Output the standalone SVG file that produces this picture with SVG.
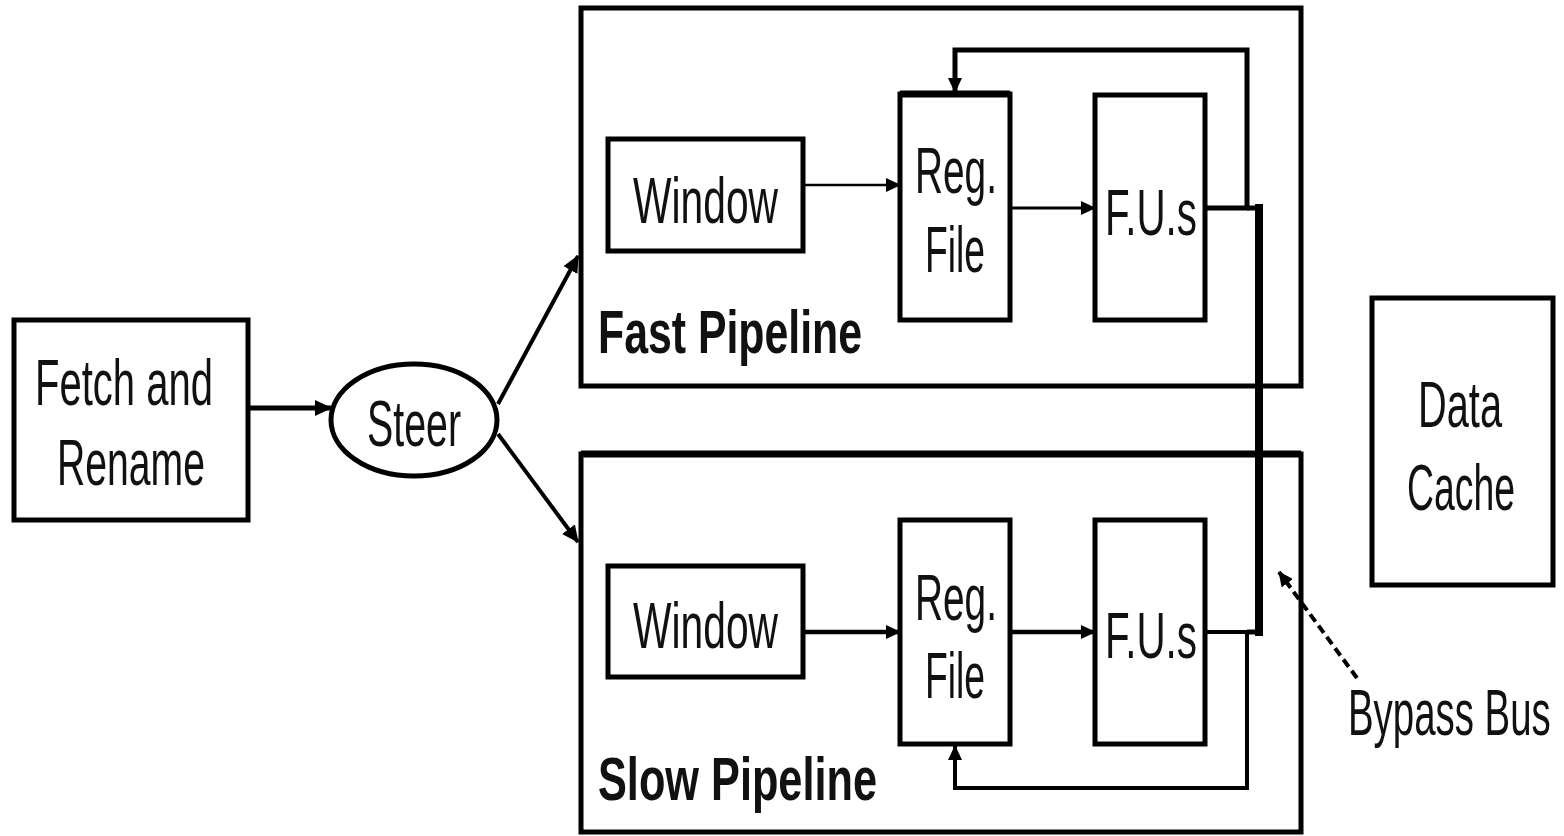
<svg xmlns="http://www.w3.org/2000/svg" width="1564" height="836" viewBox="0 0 1564 836">
<defs>
<style>
.box{fill:none;stroke:#000;stroke-width:5}
.lbl{font-family:"Liberation Sans",Arial,sans-serif;font-size:64px;fill:#111;text-anchor:start}
.bold{font-family:"Liberation Sans",Arial,sans-serif;font-size:62px;font-weight:bold;fill:#111}
.ln{fill:none;stroke:#000;stroke-linejoin:miter}
</style>
<marker id="ah" markerUnits="userSpaceOnUse" markerWidth="18" markerHeight="16" refX="16" refY="8" orient="auto">
<path d="M0,0 L17,8 L0,16 z" fill="#000"/>
</marker>
<marker id="ahs" markerUnits="userSpaceOnUse" markerWidth="16" markerHeight="14" refX="14" refY="7" orient="auto">
<path d="M0,0 L15,7 L0,14 z" fill="#000"/>
</marker>
</defs>
<rect width="1564" height="836" fill="#fff"/>

<g id="fast-pipeline">
<rect class="box" x="581" y="8" width="720" height="378"/>
<text class="bold" x="598" y="353" textLength="264" lengthAdjust="spacingAndGlyphs">Fast Pipeline</text>
</g>
<g id="slow-pipeline">
<rect class="box" x="581" y="454" width="720" height="378"/>
<line x1="581" y1="454" x2="1301" y2="454" stroke="#000" stroke-width="7"/>
<text class="bold" x="598" y="800" textLength="279" lengthAdjust="spacingAndGlyphs">Slow Pipeline</text>
</g>

<g id="fetch">
<rect class="box" x="14" y="320" width="234" height="200"/>
<text class="lbl" x="35" y="405" textLength="178" lengthAdjust="spacingAndGlyphs">Fetch and</text>
<text class="lbl" x="57" y="485" textLength="148" lengthAdjust="spacingAndGlyphs">Rename</text>
</g>
<g id="steer">
<ellipse cx="414" cy="420" rx="83" ry="56" fill="none" stroke="#000" stroke-width="5"/>
<text class="lbl" x="367" y="446" textLength="94" lengthAdjust="spacingAndGlyphs">Steer</text>
</g>

<g id="fast-window">
<rect class="box" x="608" y="139" width="195" height="112"/>
<text class="lbl" x="633" y="223" textLength="145" lengthAdjust="spacingAndGlyphs">Window</text>
</g>
<g id="fast-regfile">
<rect class="box" x="900" y="94" width="110" height="226"/>
<line x1="900" y1="94" x2="1010" y2="94" stroke="#000" stroke-width="7"/>
<text class="lbl" x="915" y="193" textLength="82" lengthAdjust="spacingAndGlyphs">Reg.</text>
<text class="lbl" x="925" y="272" textLength="60" lengthAdjust="spacingAndGlyphs">File</text>
</g>
<g id="fast-fus">
<rect class="box" x="1095" y="95" width="110" height="225"/>
<text class="lbl" x="1105" y="235" textLength="92" lengthAdjust="spacingAndGlyphs">F.U.s</text>
</g>

<g id="slow-window">
<rect class="box" x="608" y="566" width="195" height="111"/>
<text class="lbl" x="633" y="648" textLength="145" lengthAdjust="spacingAndGlyphs">Window</text>
</g>
<g id="slow-regfile">
<rect class="box" x="900" y="520" width="110" height="224"/>
<text class="lbl" x="915" y="620" textLength="82" lengthAdjust="spacingAndGlyphs">Reg.</text>
<text class="lbl" x="925" y="698" textLength="60" lengthAdjust="spacingAndGlyphs">File</text>
</g>
<g id="slow-fus">
<rect class="box" x="1095" y="520" width="110" height="224"/>
<text class="lbl" x="1105" y="658" textLength="92" lengthAdjust="spacingAndGlyphs">F.U.s</text>
</g>

<g id="data-cache">
<rect class="box" x="1372" y="298" width="181" height="287"/>
<text class="lbl" x="1418" y="427" textLength="84" lengthAdjust="spacingAndGlyphs">Data</text>
<text class="lbl" transform="translate(1407,510) scale(0.6,1)" x="0" y="0" textLength="180" lengthAdjust="spacingAndGlyphs">Cache</text>
</g>

<g id="bypass-label">
<text class="lbl" transform="translate(1348,735) scale(0.6,1)" x="0" y="0" textLength="338" lengthAdjust="spacingAndGlyphs">Bypass Bus</text>
</g>

<g id="connectors">
<line class="ln" x1="248" y1="408" x2="331" y2="408" stroke-width="5" marker-end="url(#ah)"/>
<line class="ln" x1="498" y1="404" x2="578" y2="256" stroke-width="4" marker-end="url(#ah)"/>
<line class="ln" x1="498" y1="434" x2="578" y2="542" stroke-width="4" marker-end="url(#ah)"/>

<line class="ln" x1="803" y1="185" x2="900" y2="185" stroke-width="2.5" marker-end="url(#ahs)"/>
<line class="ln" x1="1010" y1="208" x2="1095" y2="208" stroke-width="3" marker-end="url(#ahs)"/>
<polyline class="ln" points="1205,208 1247,208 1247,50 955,50 955,92" stroke-width="5" marker-end="url(#ahs)"/>

<line class="ln" x1="803" y1="632" x2="900" y2="632" stroke-width="4.5" marker-end="url(#ahs)"/>
<line class="ln" x1="1010" y1="632" x2="1095" y2="632" stroke-width="4.5" marker-end="url(#ahs)"/>
<polyline class="ln" points="1205,632 1247,632 1247,788 955,788 955,746" stroke-width="4" marker-end="url(#ahs)"/>

<line class="ln" x1="1247" y1="632" x2="1262" y2="632" stroke-width="5"/>
<line class="ln" x1="1247" y1="208" x2="1262" y2="208" stroke-width="5"/>
<line class="ln" x1="1259" y1="204" x2="1259" y2="636" stroke-width="8"/>

<line class="ln" x1="1357" y1="678" x2="1279" y2="572" stroke-width="4" stroke-dasharray="9,5" marker-end="url(#ahs)"/>
</g>
</svg>
